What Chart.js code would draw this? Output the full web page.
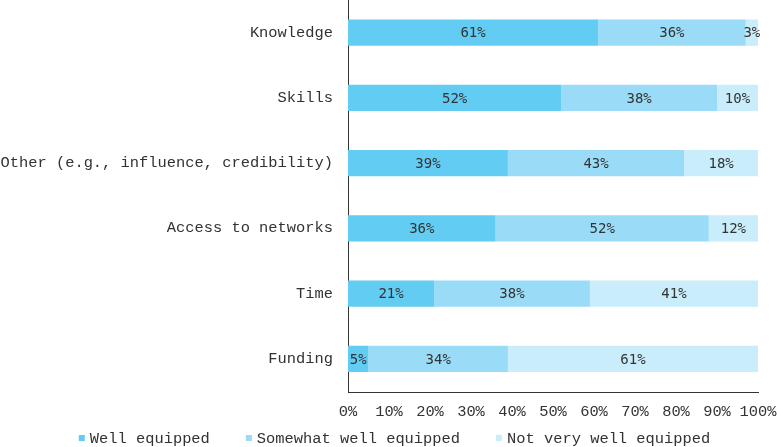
<!DOCTYPE html>
<html><head><meta charset="utf-8">
<script src="https://cdn.jsdelivr.net/npm/chart.js@4"></script>
<style>html,body{margin:0;padding:0;background:#fff}#wrap{width:777px;height:447px}</style>
</head><body><div id="wrap"><canvas id="c" width="777" height="447"></canvas></div>
<script>
const categories = ["Knowledge","Skills","Other (e.g., influence, credibility)","Access to networks","Time","Funding"];
const wellEquipped = [61,52,39,36,21,5];
const somewhatEquipped = [36,38,43,52,38,34];
const notVeryEquipped = [3,10,18,12,41,61];
const seriesNames = ["Well equipped","Somewhat well equipped","Not very well equipped"];
const colors = ["#62ccf3","#9adcf7","#c9edfb"];

const MONO = '"Liberation Mono", "Courier New", monospace';
const FS = 15.4;

const labelPlugin = {
  id:'barLabels',
  afterDatasetsDraw(chart){
    const ctx = chart.ctx;
    ctx.save();
    ctx.font = '14px "DejaVu Sans Mono", monospace';
    ctx.fillStyle = '#333';
    ctx.textAlign = 'center';
    ctx.textBaseline = 'middle';
    chart.data.datasets.forEach((ds,i)=>{
      const meta = chart.getDatasetMeta(i);
      meta.data.forEach((bar,j)=>{
        const cx = (bar.x + bar.base)/2;
        ctx.fillText(ds.data[j] + '%', cx, bar.y+1);
      });
    });
    ctx.restore();
  }
};

const axisLinePlugin = {
  id:'xAxisLine',
  afterDraw(chart){
    const ctx = chart.ctx, xs = chart.scales.x;
    ctx.save();
    ctx.fillStyle = '#333';
    ctx.fillRect(Math.round(xs.left), Math.round(xs.top), Math.round(xs.right - xs.left) + 1, 1);
    ctx.restore();
  }
};

const legendPlugin = {
  id:'customLegend',
  afterDraw(chart){
    const ctx = chart.ctx;
    ctx.save();
    ctx.font = FS + 'px ' + MONO;
    ctx.textBaseline = 'middle';
    ctx.textAlign = 'left';
    const box = 6, gapText = 5, gapItem = 36, y = 438;
    const items = chart.data.datasets.map(ds => ({text: ds.label, color: ds.backgroundColor, w: ctx.measureText(ds.label).width}));
    const total = items.reduce((s,it)=>s + box + gapText + it.w, 0) + gapItem*(items.length-1);
    let x = (chart.width - total)/2 + 6;
    items.forEach(it=>{
      ctx.fillStyle = it.color;
      ctx.fillRect(x, y-3, box, box);
      ctx.fillStyle = '#333';
      ctx.fillText(it.text, x + box + gapText, y+1);
      x += box + gapText + it.w + gapItem;
    });
    ctx.restore();
  }
};

new Chart(document.getElementById('c'), {
  type:'bar',
  data:{
    labels: categories,
    datasets: [wellEquipped, somewhatEquipped, notVeryEquipped].map((d,i)=>({
      label: seriesNames[i], data: d, backgroundColor: colors[i],
      barPercentage: 0.8, categoryPercentage: 0.5, borderWidth:0
    }))
  },
  options:{
    indexAxis:'y', responsive:false, animation:false,
    layout:{padding:{top:0,right:19,left:0,bottom:15}},
    scales:{
      x:{stacked:true, min:0, max:100,
        grid:{display:false, drawTicks:false},
        border:{display:false},
        ticks:{stepSize:10, padding:11, color:'#333', maxRotation:0, autoSkip:false, font:{family:MONO, size:FS}, callback:v=>v+'%'},
        afterFit(scale){ scale.paddingRight = 0; scale.paddingLeft = 0; }
      },
      y:{stacked:true,
        grid:{display:false, drawTicks:false},
        border:{display:true,color:'#333',width:1},
        ticks:{padding:15, color:'#333', autoSkip:false, font:{family:MONO, size:FS}},
        afterFit(scale){ scale.width = 348; scale.paddingTop = 0; scale.paddingBottom = 0; }
      }
    },
    plugins:{
      legend:{display:false},
      tooltip:{enabled:false}
    }
  },
  plugins:[labelPlugin, axisLinePlugin, legendPlugin]
});
</script></body></html>
